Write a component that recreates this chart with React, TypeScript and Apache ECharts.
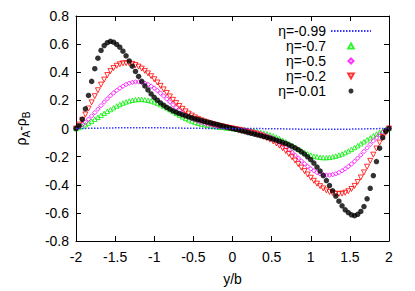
import React, { useEffect, useRef } from "react";
import * as echarts from "echarts";

const xs = [
  -2, -1.96, -1.92, -1.88, -1.84, -1.8, -1.76, -1.72, -1.68, -1.64, -1.6, -1.56, -1.52, -1.48, -1.44, -1.4, -1.36,
  -1.32, -1.28, -1.24, -1.2, -1.16, -1.12, -1.08, -1.04, -1, -0.96, -0.92, -0.88, -0.84, -0.8, -0.76, -0.72, -0.68,
  -0.64, -0.6, -0.56, -0.52, -0.48, -0.44, -0.4, -0.36, -0.32, -0.28, -0.24, -0.2, -0.16, -0.12, -0.08, -0.04, 0,
  0.04, 0.08, 0.12, 0.16, 0.2, 0.24, 0.28, 0.32, 0.36, 0.4, 0.44, 0.48, 0.52, 0.56, 0.6, 0.64, 0.68, 0.72, 0.76,
  0.8, 0.84, 0.88, 0.92, 0.96, 1, 1.04, 1.08, 1.12, 1.16, 1.2, 1.24, 1.28, 1.32, 1.36, 1.4, 1.44, 1.48, 1.52, 1.56,
  1.6, 1.64, 1.68, 1.72, 1.76, 1.8, 1.84, 1.88, 1.92, 1.96, 2,
];

const etaM099 = [
  0, 0.0002, 0.0005, 0.0008, 0.0012, 0.0016, 0.002, 0.0024, 0.0028, 0.0032, 0.0037, 0.0041, 0.0044, 0.0048, 0.0051,
  0.0054, 0.0057, 0.0059, 0.006, 0.0062, 0.0062, 0.0062, 0.0062, 0.006, 0.0059, 0.0057, 0.0054, 0.0051, 0.0048,
  0.0044, 0.004, 0.0036, 0.0032, 0.0029, 0.0025, 0.0022, 0.0019, 0.0016, 0.0014, 0.0011, 0.001, 0.0008, 0.0007,
  0.0005, 0.0005, 0.0004, 0.0003, 0.0002, 0.0001, 0.0001, 0,
  -0.0001, -0.0001, -0.0002, -0.0003, -0.0004, -0.0005, -0.0005, -0.0007, -0.0008, -0.001, -0.0011, -0.0014,
  -0.0016, -0.0019, -0.0022, -0.0025, -0.0029, -0.0032, -0.0036, -0.004, -0.0044, -0.0048, -0.0051, -0.0054,
  -0.0057, -0.0059, -0.006, -0.0062, -0.0062, -0.0062, -0.0062, -0.006, -0.0059, -0.0057, -0.0054, -0.0051,
  -0.0048, -0.0044, -0.0041, -0.0037, -0.0032, -0.0028, -0.0024, -0.002, -0.0016, -0.0012, -0.0008, -0.0005,
  -0.0002, 0,
];

const etaM07 = [
  0, 0.007, 0.016, 0.027, 0.039, 0.052, 0.066, 0.08, 0.094, 0.108, 0.122, 0.135, 0.148, 0.16, 0.171, 0.181, 0.189,
  0.196, 0.201, 0.205, 0.207, 0.207, 0.205, 0.201, 0.196, 0.189, 0.18, 0.17, 0.159, 0.147, 0.134, 0.121, 0.108,
  0.095, 0.083, 0.072, 0.062, 0.053, 0.045, 0.038, 0.032, 0.027, 0.022, 0.018, 0.015, 0.012, 0.009, 0.007, 0.004,
  0.002, 0,
  -0.002, -0.004, -0.007, -0.009, -0.012, -0.015, -0.018, -0.022, -0.027, -0.032, -0.038, -0.045, -0.053, -0.062,
  -0.072, -0.083, -0.095, -0.108, -0.121, -0.134, -0.147, -0.159, -0.17, -0.18, -0.189, -0.196, -0.201, -0.205,
  -0.207, -0.207, -0.205, -0.201, -0.196, -0.189, -0.181, -0.171, -0.16, -0.148, -0.135, -0.122, -0.108, -0.094,
  -0.08, -0.066, -0.052, -0.039, -0.027, -0.016, -0.007, 0,
];

const etaM05 = [
  0, 0.012, 0.027, 0.045, 0.066, 0.089, 0.113, 0.138, 0.163, 0.188, 0.211, 0.233, 0.253, 0.271, 0.287, 0.301, 0.313,
  0.322, 0.328, 0.331, 0.331, 0.328, 0.322, 0.313, 0.301, 0.287, 0.27, 0.251, 0.231, 0.21, 0.189, 0.168, 0.148,
  0.129, 0.112, 0.097, 0.083, 0.071, 0.061, 0.052, 0.044, 0.037, 0.031, 0.026, 0.021, 0.017, 0.013, 0.01, 0.006,
  0.003, 0,
  -0.003, -0.006, -0.01, -0.013, -0.017, -0.021, -0.026, -0.031, -0.037, -0.044, -0.052, -0.061, -0.071, -0.083,
  -0.097, -0.112, -0.129, -0.148, -0.168, -0.189, -0.21, -0.231, -0.251, -0.27, -0.287, -0.301, -0.313, -0.322,
  -0.328, -0.331, -0.331, -0.328, -0.322, -0.313, -0.301, -0.287, -0.271, -0.253, -0.233, -0.211, -0.188, -0.163,
  -0.138, -0.113, -0.089, -0.066, -0.045, -0.027, -0.012, 0,
];

const etaM02 = [
  0, 0.028, 0.062, 0.1, 0.142, 0.186, 0.23, 0.272, 0.312, 0.348, 0.38, 0.408, 0.43, 0.446, 0.457, 0.463, 0.465,
  0.464, 0.459, 0.451, 0.44, 0.426, 0.41, 0.392, 0.372, 0.35, 0.327, 0.303, 0.278, 0.253, 0.228, 0.204, 0.181, 0.16,
  0.14, 0.122, 0.106, 0.092, 0.079, 0.068, 0.058, 0.05, 0.042, 0.035, 0.029, 0.023, 0.018, 0.013, 0.009, 0.004, 0,
  -0.004, -0.009, -0.013, -0.018, -0.023, -0.029, -0.035, -0.042, -0.05, -0.058, -0.068, -0.079, -0.092, -0.106,
  -0.122, -0.14, -0.16, -0.181, -0.204, -0.228, -0.253, -0.278, -0.303, -0.327, -0.35, -0.372, -0.392, -0.41,
  -0.426, -0.44, -0.451, -0.459, -0.464, -0.465, -0.463, -0.457, -0.446, -0.43, -0.408, -0.38, -0.348, -0.312,
  -0.272, -0.23, -0.186, -0.142, -0.1, -0.062, -0.028, 0,
];

const etaM001 = [
  0, 0.02, 0.065, 0.14, 0.235, 0.335, 0.425, 0.5, 0.555, 0.59, 0.61, 0.62, 0.614, 0.598, 0.578, 0.55, 0.517, 0.48,
  0.443, 0.406, 0.37, 0.335, 0.303, 0.274, 0.246, 0.222, 0.201, 0.182, 0.166, 0.151, 0.138, 0.126, 0.116, 0.106,
  0.098, 0.09, 0.083, 0.076, 0.069, 0.063, 0.057, 0.051, 0.046, 0.04, 0.034, 0.029, 0.023, 0.017, 0.011, 0.006, 0,
  -0.006, -0.011, -0.017, -0.023, -0.029, -0.034, -0.04, -0.046, -0.051, -0.057, -0.063, -0.069, -0.076, -0.083,
  -0.09, -0.098, -0.106, -0.116, -0.126, -0.138, -0.151, -0.166, -0.182, -0.201, -0.222, -0.246, -0.274, -0.303,
  -0.335, -0.37, -0.406, -0.443, -0.48, -0.517, -0.55, -0.578, -0.598, -0.614, -0.62, -0.61, -0.59, -0.555, -0.5,
  -0.425, -0.335, -0.235, -0.14, -0.065, -0.02, 0,
];

const seriesNames = ["η=-0.99", "η=-0.7", "η=-0.5", "η=-0.2", "η=-0.01"];

const FONT = "'Liberation Sans', Arial, sans-serif";

const TRI_UP = "path://M5,0L10,9L0,9Z";
const TRI_DOWN = "path://M0,0L10,0L5,9Z";
const DIAMOND = "path://M5,0L10,5L5,10L0,5Z";

const pair = (vals: number[]) => xs.map((x, i) => [x, vals[i]]);

export default function App() {
  const ref = useRef<HTMLDivElement>(null);
  useEffect(() => {
    if (!ref.current) return;
    const chart = echarts.init(ref.current, undefined, { renderer: "svg" });
    const axisLine = { show: true, onZero: false, lineStyle: { color: "#000", width: 1 } };
    const axisTick = { show: true, inside: true, length: 5, lineStyle: { color: "#000", width: 1 } };
    const label = { color: "#000", fontSize: 14, fontFamily: FONT };
    chart.setOption({
      animation: false,
      backgroundColor: "#fff",
      grid: { left: 76, right: 26, top: 16, bottom: 46, containLabel: false },
      legend: {
        orient: "vertical",
        right: 43,
        top: 24,
        align: "right",
        itemWidth: 40,
        itemHeight: 5,
        itemGap: 1,
        padding: 0,
        selectedMode: false,
        symbolKeepAspect: true,
        textStyle: { color: "#000", fontSize: 14, lineHeight: 13, fontFamily: FONT },
        data: [
          { name: seriesNames[0], itemStyle: { color: "rgba(0,0,0,0)", borderWidth: 0 } },
          { name: seriesNames[1], icon: TRI_UP },
          { name: seriesNames[2], icon: DIAMOND },
          { name: seriesNames[3], icon: TRI_DOWN },
          { name: seriesNames[4], icon: "circle" },
        ],
      },
      xAxis: [
        {
          type: "value",
          min: -2,
          max: 2,
          interval: 0.5,
          position: "bottom",
          axisLine,
          axisTick,
          axisLabel: { ...label, margin: 9 },
          splitLine: { show: false },
          name: "y/b",
          nameLocation: "middle",
          nameGap: 31,
          nameTextStyle: { color: "#000", fontSize: 14, fontFamily: FONT },
        },
        {
          type: "value",
          min: -2,
          max: 2,
          interval: 0.5,
          position: "top",
          axisLine,
          axisTick,
          axisLabel: { show: false },
          splitLine: { show: false },
        },
      ],
      yAxis: [
        {
          type: "value",
          min: -0.8,
          max: 0.8,
          interval: 0.2,
          position: "left",
          axisLine,
          axisTick,
          axisLabel: { ...label, margin: 7 },
          splitLine: { show: false },
          name: "{r|ρ}{s|A}{r|-ρ}{s|B}",
          nameLocation: "middle",
          nameRotate: 90,
          nameGap: 45,
          nameTextStyle: {
            color: "#000",
            fontFamily: FONT,
            rich: {
              r: { fontSize: 14, lineHeight: 20, verticalAlign: "middle", fontFamily: FONT, color: "#000" },
              s: { fontSize: 10, lineHeight: 10, verticalAlign: "bottom", fontFamily: FONT, color: "#000" },
            },
          },
        },
        {
          type: "value",
          min: -0.8,
          max: 0.8,
          interval: 0.2,
          position: "right",
          axisLine,
          axisTick,
          axisLabel: { show: false },
          splitLine: { show: false },
        },
      ],
      series: [
        {
          name: seriesNames[0],
          type: "line",
          data: pair(etaM099),
          showSymbol: false,
          symbol: "none",
          silent: true,
          lineStyle: { color: "#3535ff", width: 1.5, type: [1.5, 1.5] },
          itemStyle: { color: "#3535ff" },
        },
        {
          name: seriesNames[1],
          type: "scatter",
          data: pair(etaM07),
          symbol: TRI_UP,
          symbolSize: 4.5,
          silent: true,
          itemStyle: { color: "rgba(0,0,0,0)", borderColor: "#00f000", borderWidth: 1 },
        },
        {
          name: seriesNames[2],
          type: "scatter",
          data: pair(etaM05),
          symbol: DIAMOND,
          symbolSize: 4.5,
          silent: true,
          itemStyle: { color: "rgba(0,0,0,0)", borderColor: "#ff00ff", borderWidth: 1 },
        },
        {
          name: seriesNames[3],
          type: "scatter",
          data: pair(etaM02),
          symbol: TRI_DOWN,
          symbolSize: 5,
          silent: true,
          itemStyle: { color: "rgba(0,0,0,0)", borderColor: "#ff0000", borderWidth: 1 },
        },
        {
          name: seriesNames[4],
          type: "scatter",
          data: pair(etaM001),
          symbol: "circle",
          symbolSize: 5.5,
          silent: true,
          itemStyle: { color: "#000" },
        },
      ],
    });
    return () => chart.dispose();
  }, []);
  return (
    <div
      ref={ref}
      style={{ position: "fixed", left: 0, top: 0, width: 415, height: 291, background: "#fff" }}
    />
  );
}
